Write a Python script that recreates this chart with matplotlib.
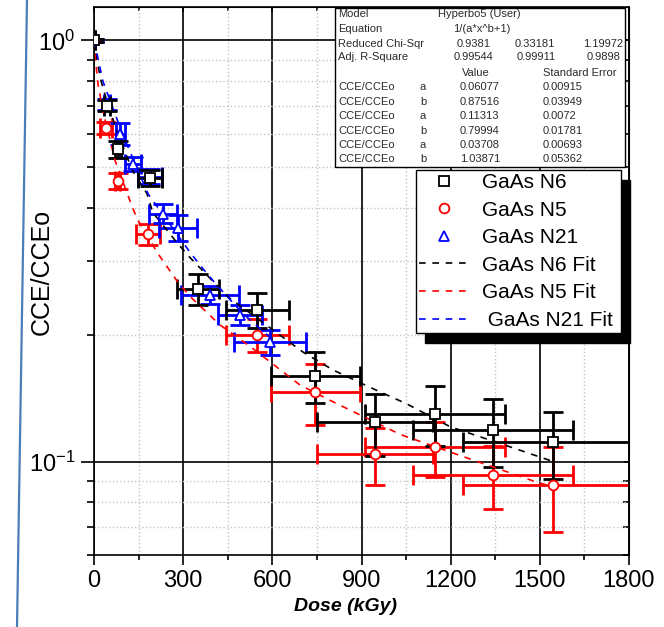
import matplotlib
matplotlib.use('Agg')
import matplotlib.pyplot as plt
from matplotlib.ticker import LogLocator, NullFormatter, MultipleLocator
from matplotlib.lines import Line2D
from matplotlib.patches import Rectangle

plt.rcParams['font.family'] = ['Liberation Sans', 'DejaVu Sans']
plt.rcParams['mathtext.default'] = 'regular'

# ---- data ----
# GaAs N6 (black squares)
n6_dose = [0, 45, 80, 188, 350, 550, 745, 945, 1147, 1343, 1545]
n6_cce = [1.0, 0.70, 0.552, 0.472, 0.257, 0.229, 0.160, 0.124, 0.130, 0.119, 0.111]
n6_xerr = [3, 10, 10, 40, 70, 105, 150, 195, 235, 270, 305]
n6_yerr = [0.01, 0.02, 0.025, 0.02, 0.022, 0.022, 0.022, 0.021, 0.021, 0.022, 0.02]

# GaAs N5 (red circles)
n5_dose = [0, 40, 80, 182, 550, 745, 945, 1147, 1343, 1545]
n5_cce = [1.0, 0.62, 0.464, 0.347, 0.20, 0.146, 0.104, 0.108, 0.093, 0.088]
n5_xerr = [3, 20, 8, 40, 105, 150, 195, 235, 270, 305]
n5_yerr = [0.01, 0.02, 0.02, 0.02, 0.018, 0.024, 0.016, 0.016, 0.016, 0.02]

# GaAs N21 (blue triangles)
n21_dose = [0, 45, 88, 131, 188, 232, 283, 390, 491, 592]
n21_cce = [1.0, 0.705, 0.60, 0.509, 0.475, 0.388, 0.359, 0.249, 0.223, 0.192]
n21_xerr = [3, 10, 15, 28, 40, 47, 63, 98, 73, 120]
n21_yerr = [0.01, 0.02, 0.035, 0.02, 0.02, 0.02, 0.025, 0.012, 0.012, 0.013]

# fit curves (Hyperbo5)
fit_n6_dose = [0, 5, 12, 24, 40, 80, 130, 178, 198, 279, 323, 451, 703, 804, 929, 1053, 1198, 1423, 1545]
fit_n6 = [1.0, 0.94, 0.88, 0.80, 0.73, 0.60, 0.49, 0.433, 0.390, 0.331, 0.305, 0.246, 0.182, 0.165, 0.150, 0.137, 0.121, 0.107, 0.100]
fit_n5_dose = [0, 5, 13, 30, 71, 121, 145, 212, 283, 330, 424, 532, 693, 801, 1030, 1221, 1477, 1545]
fit_n5 = [1.0, 0.90, 0.79, 0.68, 0.518, 0.416, 0.377, 0.314, 0.266, 0.244, 0.211, 0.186, 0.152, 0.139, 0.116, 0.104, 0.090, 0.087]
fit_n21_dose = [0, 10, 30, 60, 100, 182, 323, 363, 414, 500, 600]
fit_n21 = [1.0, 0.93, 0.80, 0.70, 0.59, 0.432, 0.314, 0.289, 0.262, 0.225, 0.195]

# fit report table
row_labels = ['Model', 'Equation', 'Reduced Chi-Sqr', 'Adj. R-Square']
model_name = 'Hyperbo5 (User)'
equation = '1/(a*x^b+1)'
chi_sqr = ['0.9381', '0.33181', '1.19972']
adj_r2 = ['0.99544', '0.99911', '0.9898']
param_names = ['a', 'b', 'a', 'b', 'a', 'b']
param_values = ['0.06077', '0.87516', '0.11313', '0.79994', '0.03708', '1.03871']
param_errors = ['0.00915', '0.03949', '0.0072', '0.01781', '0.00693', '0.05362']

W, H = 664, 627
fig = plt.figure(figsize=(W / 100, H / 100), dpi=100)
ax = fig.add_axes([94 / W, 1 - 555 / H, 535 / W, 548 / H])

# error bars
eb = dict(fmt='none', elinewidth=2, capsize=7, capthick=2)
ax.errorbar(n5_dose, n5_cce, xerr=n5_xerr, yerr=n5_yerr, ecolor='red', zorder=2, **eb)
ax.errorbar(n21_dose, n21_cce, xerr=n21_xerr, yerr=n21_yerr, ecolor='blue', zorder=2.1, **eb)
ax.errorbar(n6_dose, n6_cce, xerr=n6_xerr, yerr=n6_yerr, ecolor='black', zorder=2.2, **eb)

# fits
fit_style = dict(lw=1.2, dashes=(4, 4), zorder=2.5)
l_f6, = ax.plot(fit_n6_dose, fit_n6, color='black', **fit_style)
l_f5, = ax.plot(fit_n5_dose, fit_n5, color='red', **fit_style)
l_f21, = ax.plot(fit_n21_dose, fit_n21, color='blue', **fit_style)

# markers
mk = dict(ls='none', mfc='white', markersize=7, mew=1.3, zorder=3)
m5, = ax.plot(n5_dose, n5_cce, 'o', mec='red', **mk)
m21, = ax.plot(n21_dose, n21_cce, '^', mec='blue', **mk)
m6, = ax.plot(n6_dose, n6_cce, 's', mec='black', **mk)

ax.set_xlim(0, 1800)
ax.set_yscale('log')
ax.set_ylim(0.06, 1.2)
ax.xaxis.set_major_locator(MultipleLocator(300))
ax.xaxis.set_minor_locator(MultipleLocator(150))
ax.yaxis.set_major_locator(LogLocator(base=10))
ax.yaxis.set_minor_locator(LogLocator(base=10, subs=range(2, 10)))
ax.yaxis.set_minor_formatter(NullFormatter())

ax.set_axisbelow(True)
ax.grid(which='major', color='black', ls='-', lw=1.2)
ax.grid(which='minor', color='#c4c4c4', ls=':', lw=1.0)

for s in ax.spines.values():
    s.set_linewidth(1.2)
ax.tick_params(axis='y', which='major', direction='out', length=9.5, width=1.2, labelsize=17, pad=4)
ax.tick_params(axis='y', which='minor', direction='out', length=5, width=1.2)
ax.tick_params(axis='x', which='major', direction='out', length=7, width=1.2, labelsize=17, pad=4)
ax.tick_params(axis='x', which='minor', direction='out', length=3.5, width=1.2)

# inward ticks on top and right
top = ax.secondary_xaxis('top')
top.xaxis.set_major_locator(MultipleLocator(300))
top.xaxis.set_minor_locator(MultipleLocator(150))
top.tick_params(which='both', direction='in', labeltop=False, width=1.2)
top.tick_params(which='minor', length=3)
right = ax.secondary_yaxis('right')
right.yaxis.set_minor_locator(LogLocator(base=10, subs=range(2, 10)))
right.yaxis.set_minor_formatter(NullFormatter())
right.tick_params(which='both', direction='in', labelright=False, width=1.2)
right.tick_params(which='minor', length=4)

ax.set_ylabel('CCE/CCEo', fontsize=18)
ax.yaxis.set_label_coords(-0.075, 0.516)
ax.set_xlabel('Dose (kGy)', fontsize=14, fontweight='bold', fontstyle='italic')
ax.xaxis.set_label_coords(0.47, -0.078)

# legend with black drop shadow
handles = [m6, m5, m21, l_f6, l_f5, l_f21]
labels = ['GaAs N6', 'GaAs N5', 'GaAs N21', 'GaAs N6 Fit', 'GaAs N5 Fit', ' GaAs N21 Fit ']
leg = ax.legend(handles, labels, loc='upper left', bbox_to_anchor=(416 / W, 1 - 170 / H),
                bbox_transform=fig.transFigure, borderaxespad=0, fontsize=15,
                handlelength=2.4, handletextpad=0.6, labelspacing=0.41, borderpad=0.15,
                fancybox=False, framealpha=1, edgecolor='black',
                shadow={'ox': 6.5, 'oy': -7, 'color': 'black', 'alpha': 1})
leg.get_frame().set_linewidth(1.0)
leg.set_zorder(10)

# fit report box
fig.add_artist(Rectangle((335 / W, 1 - 167 / H), 290 / W, 159 / H, transform=fig.transFigure,
                         facecolor='white', edgecolor='black', lw=1.0, zorder=5))
tk = dict(fontsize=8, color='#2a2a2a', va='center', ha='left', zorder=6)
row_y = [14, 29, 44, 57, 73, 87, 102, 116, 131, 145, 159]
fig.text(338 / W, 1 - row_y[0] / H, row_labels[0], **tk)
fig.text(438 / W, 1 - row_y[0] / H, model_name, **tk)
fig.text(338 / W, 1 - row_y[1] / H, row_labels[1], **tk)
fig.text(453 / W, 1 - row_y[1] / H, equation, **tk)
fig.text(338 / W, 1 - row_y[2] / H, row_labels[2], **tk)
fig.text(338 / W, 1 - row_y[3] / H, row_labels[3], **tk)
for xpx, v in zip([457, 515, 583], chi_sqr):
    fig.text(xpx / W, 1 - row_y[2] / H, v, **tk)
for xpx, v in zip([454, 517, 587], adj_r2):
    fig.text(xpx / W, 1 - row_y[3] / H, v, **tk)
fig.text(462 / W, 1 - row_y[4] / H, 'Value', **tk)
fig.text(543 / W, 1 - row_y[4] / H, 'Standard Error', **tk)
for i, (p, v, e) in enumerate(zip(param_names, param_values, param_errors)):
    yy = 1 - row_y[5 + i] / H
    fig.text(338 / W, yy, 'CCE/CCEo', **tk)
    fig.text(420 / W, yy, p, **tk)
    fig.text(460 / W, yy, v, **tk)
    fig.text(543 / W, yy, e, **tk)

# slanted page border on the left
fig.add_artist(Line2D([27 / W, 17 / W], [1, 0], transform=fig.transFigure, color='#4a7ebb', lw=1.6))

fig.savefig('out.png', dpi=100)
